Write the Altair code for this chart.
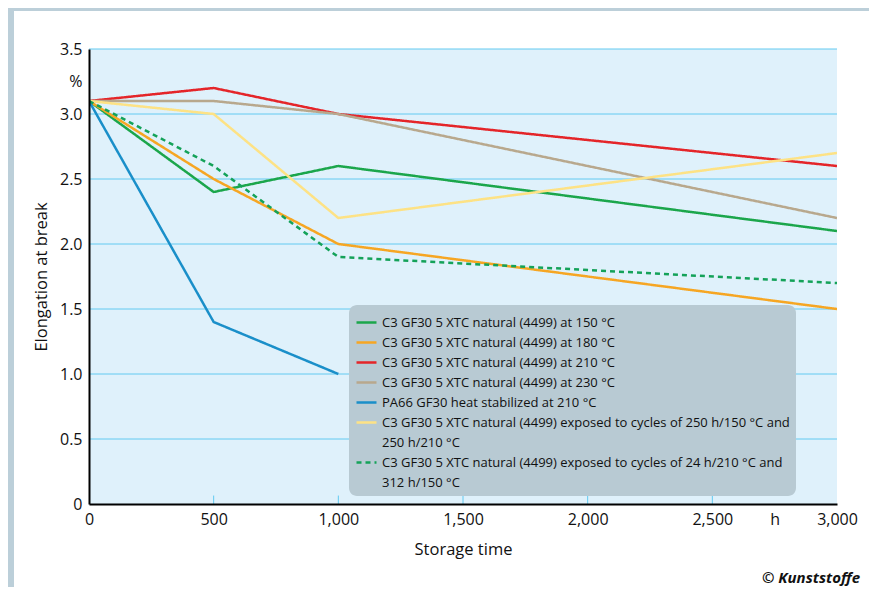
import altair as alt
import pandas as pd

series = [
    "C3 GF30 5 XTC natural (4499) at 150 °C",
    "C3 GF30 5 XTC natural (4499) at 180 °C",
    "C3 GF30 5 XTC natural (4499) at 210 °C",
    "C3 GF30 5 XTC natural (4499) at 230 °C",
    "PA66 GF30 heat stabilized at 210 °C",
    "C3 GF30 5 XTC natural (4499) exposed to cycles of 250 h/150 °C and|250 h/210 °C",
    "C3 GF30 5 XTC natural (4499) exposed to cycles of 24 h/210 °C and|312 h/150 °C",
]
colors = ["#1ba64b", "#f6a623", "#e42529", "#b8a88d", "#1a8fc9", "#fde285", "#14a259"]
dashes = [[1, 0], [1, 0], [1, 0], [1, 0], [1, 0], [1, 0], [5, 4]]

hours_4 = [0, 500, 1000, 3000]
hours_3 = [0, 500, 1000]
s150 = [3.1, 2.4, 2.6, 2.1]
s180 = [3.1, 2.5, 2.0, 1.5]
s210 = [3.1, 3.2, 3.0, 2.6]
s230 = [3.1, 3.1, 3.0, 2.2]
pa66 = [3.1, 1.4, 1.0]
cyc1 = [3.1, 3.0, 2.2, 2.7]
cyc2 = [3.1, 2.6, 1.9, 1.7]

x_ticks = [0, 500, 1000, 1500, 2000, 2500, 2750, 3000]
inner_ticks = [500, 1000, 1500, 2000, 2500]
y_ticks = [0, 0.5, 1.0, 1.5, 2.0, 2.5, 3.0, 3.25, 3.5]
y_grid = [0.5, 1.0, 1.5, 2.0, 2.5, 3.0, 3.5]

rows = []
for name, xs, ys in [
    (series[0], hours_4, s150),
    (series[1], hours_4, s180),
    (series[2], hours_4, s210),
    (series[3], hours_4, s230),
    (series[4], hours_3, pa66),
    (series[5], hours_4, cyc1),
    (series[6], hours_4, cyc2),
]:
    for i, (x, y) in enumerate(zip(xs, ys)):
        rows.append({"series": name, "h": x, "v": y, "o": i})
df = pd.DataFrame(rows)

FONT = "'Open Sans', sans-serif"
GRID = "#62caf1"

xscale = alt.Scale(domain=[0, 3000], nice=False, zero=False)
yscale = alt.Scale(domain=[0, 3.5], nice=False)

legend = alt.Legend(
    title=None, orient="none", legendX=260, legendY=256,
    fillColor="#b8cad3", cornerRadius=8, padding=6,
    symbolType="stroke", symbolSize=400, symbolStrokeWidth=2.5,
    labelFont=FONT, labelFontSize=13, labelColor="#111111", labelLimit=600,
    labelExpr="split(datum.label, '|')", rowPadding=1, zindex=2,
)

frame = alt.Chart(pd.DataFrame({"a": [0]})).mark_rect(color="white").encode(
    x=alt.value(-75), x2=alt.value(784), y=alt.value(-38), y2=alt.value(540)
)

plot_bg = alt.Chart(pd.DataFrame({"a": [0]})).mark_rect(color="#dff1fb").encode(
    x=alt.value(0), x2=alt.value(748), y=alt.value(0), y2=alt.value(455)
)

grid = alt.Chart(pd.DataFrame({"g": y_grid})).mark_rule(color=GRID, strokeWidth=1).encode(
    y=alt.Y("g:Q", scale=yscale)
)

ticks = alt.Chart(pd.DataFrame({"h": inner_ticks, "y0": [0] * 5, "y1": [0.065] * 5})).mark_rule(
    color=GRID, strokeWidth=1
).encode(
    x=alt.X("h:Q", scale=xscale),
    y=alt.Y("y0:Q", scale=yscale),
    y2="y1:Q",
)

lines = alt.Chart(df).mark_line(strokeWidth=2.5, clip=True).encode(
    x=alt.X(
        "h:Q", scale=xscale, title="Storage time",
        axis=alt.Axis(
            values=x_ticks, grid=False, ticks=False, zindex=1,
            labelExpr="datum.value == 2750 ? 'h' : format(datum.value, ',')",
            domainColor="black", domainWidth=2, labelFont=FONT, labelFontSize=16,
            labelColor="#111111", labelPadding=7, titleFont=FONT, titleFontSize=16.5,
            titleFontWeight="normal", titleColor="#111111", titlePadding=14,
            labelFlush=False,
        ),
    ),
    y=alt.Y(
        "v:Q", scale=yscale, title="Elongation at break",
        axis=alt.Axis(
            values=y_ticks, ticks=False, grid=False, zindex=1,
            labelExpr="datum.value == 3.25 ? '%' : (datum.value == 0 ? '0' : format(datum.value, '.1f'))",
            domainColor="black", domainWidth=2, labelFont=FONT, labelFontSize=16,
            labelColor="#111111", labelPadding=7, titleFont=FONT, titleFontSize=16.5,
            titleFontWeight="normal", titleColor="#111111", titlePadding=10,
        ),
    ),
    color=alt.Color("series:N", scale=alt.Scale(domain=series, range=colors), legend=legend),
    strokeDash=alt.StrokeDash("series:N", scale=alt.Scale(domain=series, range=dashes), legend=legend),
    order="o:Q",
)

credit = alt.Chart(pd.DataFrame({"t": ["© Kunststoffe"]})).mark_text(
    font=FONT, fontSize=15, fontStyle="italic", fontWeight="bold",
    align="right", baseline="middle", color="#111111",
).encode(text="t:N", x=alt.value(771), y=alt.value(529))

chart = alt.layer(frame, plot_bg, grid, ticks, lines, credit).properties(
    width=748, height=455, background="#bccfd9",
    padding={"left": 81, "top": 41, "right": 32, "bottom": 83},
    autosize=alt.AutoSizeParams(type="none"),
).configure(
    style={"guide-label": {"lineHeight": 20}},
    view=alt.ViewConfig(stroke=GRID, strokeWidth=1),
)

chart.save("out.html", embed_options={"renderer": "svg", "actions": False})
